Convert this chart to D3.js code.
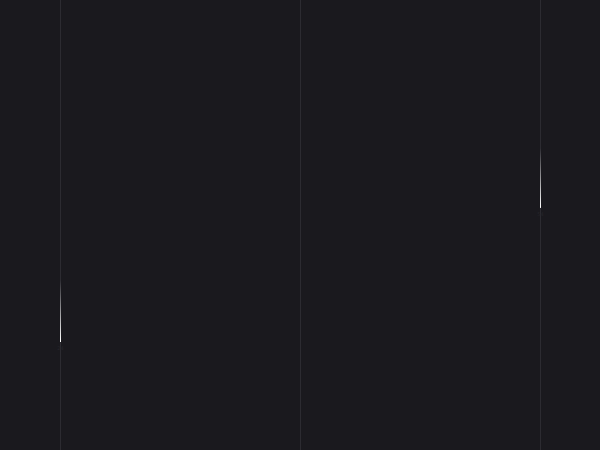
<!DOCTYPE html>
<html>
<head>
<meta charset="utf-8">
<script src="https://cdn.jsdelivr.net/npm/d3@7"></script>
<style>
  html, body { margin: 0; padding: 0; background: #1a191e; }
  svg { display: block; }
</style>
</head>
<body>
<div id="chart"></div>
<script>
  // data
  const categories = ["A", "B", "C"];
  const startValues = [24, 0, 53.8];   // bottom end of each streak
  const endValues = [37.8, 0, 67.1];   // top end of each streak

  const data = categories.map((c, i) => ({ cat: c, start: startValues[i], end: endValues[i] }));

  /** CONSTANTS */
  const width = 600;
  const height = 450;
  const offset = 0.5; // same half-pixel shift the axis ticks use

  const svg = d3.select("#chart").append("svg")
    .attr("width", width)
    .attr("height", height);

  svg.append("rect")
    .attr("width", width)
    .attr("height", height)
    .attr("fill", "#1a191e");

  const x = d3.scalePoint()
    .domain(categories)
    .range([60, 540]);

  const y = d3.scaleLinear()
    .domain([0, 100])
    .range([height, 0]);

  // vertical grid lines through each category
  const xAxis = d3.axisBottom(x)
    .tickSize(-height)
    .tickFormat("");

  const gx = svg.append("g")
    .attr("class", "x axis")
    .attr("transform", `translate(0, ${height})`)
    .call(xAxis);
  gx.select(".domain").remove();
  gx.selectAll(".tick line")
    .attr("stroke", "#2c2b31")
    .attr("stroke-width", 1);

  // gradient: transparent at the top, white at the bottom
  const defs = svg.append("defs");
  const streaks = data.filter(d => d.end !== d.start);

  streaks.forEach((d, i) => {
    const grad = defs.append("linearGradient")
      .attr("id", "streak" + i)
      .attr("gradientUnits", "userSpaceOnUse")
      .attr("x1", x(d.cat) + offset).attr("x2", x(d.cat) + offset)
      .attr("y1", y(d.end)).attr("y2", y(d.start));
    grad.append("stop").attr("offset", "0%").attr("stop-color", "#ffffff").attr("stop-opacity", 0);
    grad.append("stop").attr("offset", "100%").attr("stop-color", "#ffffff").attr("stop-opacity", 1);
  });

  svg.selectAll(".streak")
    .data(streaks)
    .enter()
    .append("line")
    .attr("class", "streak")
    .attr("x1", d => x(d.cat) + offset).attr("x2", d => x(d.cat) + offset)
    .attr("y1", d => y(d.end)).attr("y2", d => y(d.start))
    .attr("stroke", (d, i) => `url(#streak${i})`)
    .attr("stroke-width", 1);

  // faint value label under each streak
  svg.selectAll(".label")
    .data(streaks)
    .enter()
    .append("text")
    .attr("class", "label")
    .attr("x", d => x(d.cat) + offset)
    .attr("y", d => y(d.start) + 8)
    .attr("text-anchor", "middle")
    .attr("font-family", "DejaVu Sans")
    .attr("font-size", 5)
    .attr("fill", "#26252b")
    .text(d => Math.round(d.start));
</script>
</body>
</html>
